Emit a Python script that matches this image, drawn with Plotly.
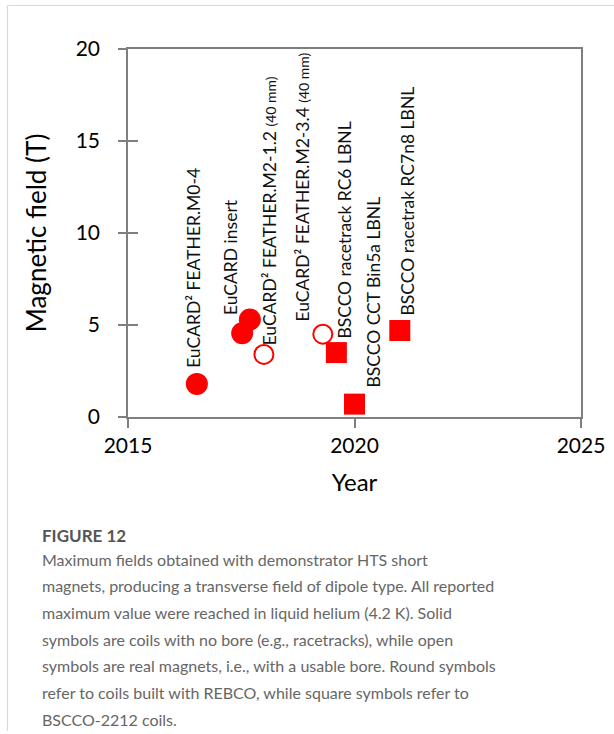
import plotly.graph_objects as go

# ---- data ----
rebco_solid_year = [2016.52, 2017.52, 2017.69]
rebco_solid_field = [1.8, 4.55, 5.3]
rebco_open_year = [2018.0, 2019.3]
rebco_open_field = [3.4, 4.5]
bscco_year = [2019.6, 2020.0, 2021.0]
bscco_field = [3.5, 0.7, 4.7]

label_texts = [
    "EuCARD² FEATHER.M0-4",
    "EuCARD insert",
    "EuCARD² FEATHER.M2-1.2 <span style='font-size:14px'>(40 mm)</span>",
    "EuCARD² FEATHER.M2-3.4 <span style='font-size:14px'>(40 mm)</span>",
    "BSCCO racetrack RC6 LBNL",
    "BSCCO CCT Bin5a LBNL",
    "BSCCO racetrak RC7n8 LBNL",
]
label_year = [2016.43, 2017.25, 2018.13, 2018.86, 2019.79, 2020.41, 2021.18]
label_field = [2.55, 5.43, 3.8, 5.1, 4.18, 1.47, 5.43]

x_ticks = [2015, 2020, 2025]
y_ticks = [0, 5, 10, 15, 20]

caption_title = "FIGURE 12"
caption_lines = [
    "Maximum fields obtained with demonstrator HTS short",
    "magnets, producing a transverse field of dipole type. All reported",
    "maximum value were reached in liquid helium (4.2 K). Solid",
    "symbols are coils with no bore (e.g., racetracks), while open",
    "symbols are real magnets, i.e., with a usable bore. Round symbols",
    "refer to coils built with REBCO, while square symbols refer to",
    "BSCCO-2212 coils.",
]

RED = "#ff0000"
W, H = 614, 734
L, R, T, B = 128, 33, 49, 317
PH = H - T - B
PW = W - L - R

fig = go.Figure()
fig.add_trace(go.Scatter(x=rebco_solid_year, y=rebco_solid_field, mode="markers",
                         marker=dict(symbol="circle", size=22, color=RED, line=dict(width=0)),
                         showlegend=False))
fig.add_trace(go.Scatter(x=rebco_open_year, y=rebco_open_field, mode="markers",
                         marker=dict(symbol="circle", size=19, color="white",
                                     line=dict(width=2, color=RED)),
                         showlegend=False))
fig.add_trace(go.Scatter(x=bscco_year, y=bscco_field, mode="markers",
                         marker=dict(symbol="square", size=21, color=RED, line=dict(width=0)),
                         showlegend=False))
# invisible trace for inside y ticks
fig.add_trace(go.Scatter(x=[2015], y=[0], yaxis="y2", mode="markers",
                         marker=dict(opacity=0), showlegend=False, hoverinfo="skip"))

FONT = "Lato"
annotations = []
for t, xv, yv in zip(label_texts, label_year, label_field):
    annotations.append(dict(x=xv, y=yv, xref="x", yref="y", text=t, textangle=-90,
                            showarrow=False, xanchor="center", yanchor="bottom",
                            font=dict(family=FONT, size=17.5, color="#111")))

def py(p):
    return (H - B - p) / PH

def px(p):
    return (p - L) / PW

annotations.append(dict(x=px(40), y=py(535), xref="paper", yref="paper",
                        text="<b>" + caption_title + "</b>", showarrow=False,
                        xanchor="left", yanchor="middle",
                        font=dict(family=FONT, size=17, color="#555")))
for i, line in enumerate(caption_lines):
    annotations.append(dict(x=px(40), y=py(559 + i * 26.7), xref="paper",
                            yref="paper", text=line, showarrow=False,
                            xanchor="left", yanchor="middle",
                            font=dict(family=FONT, size=16, color="#666")))

shapes = [
    dict(type="line", xref="paper", yref="paper",
         x0=px(7.5), x1=px(7.5), y0=py(5.5), y1=py(731),
         line=dict(color="#d9d9d9", width=1.2)),
    dict(type="line", xref="paper", yref="paper",
         x0=px(7.5), x1=px(W), y0=py(5.5), y1=py(5.5),
         line=dict(color="#d9d9d9", width=1.2)),
]

axis_line = "#7f7f7f"
fig.update_layout(
    width=W, height=H,
    margin=dict(l=L, r=R, t=T, b=B, autoexpand=False),
    paper_bgcolor="white", plot_bgcolor="white",
    xaxis=dict(range=[2015, 2025], tickvals=x_ticks, ticks="outside", ticklen=9,
               tickcolor=axis_line, tickwidth=1.5, showline=True, linecolor=axis_line,
               linewidth=1.5, mirror=True, showgrid=False, zeroline=False,
               tickfont=dict(family=FONT, size=21, color="#000"),
               title=dict(text="Year", font=dict(family=FONT, size=24, color="#000"),
                          standoff=18)),
    yaxis=dict(range=[0, 20], tickvals=y_ticks, ticks="outside", ticklen=8,
               tickcolor=axis_line, tickwidth=1.5, showline=True, linecolor=axis_line,
               linewidth=1.5, mirror=True, showgrid=False, zeroline=False,
               tickfont=dict(family=FONT, size=21, color="#000"),
               ticklabelstandoff=14,
               title=dict(text="Magnetic field (T)",
                          font=dict(family=FONT, size=26, color="#000"), standoff=22)),
    yaxis2=dict(range=[0, 20], tickvals=y_ticks, ticks="inside", ticklen=10,
                tickcolor=axis_line, tickwidth=1.5, overlaying="y", side="left",
                showticklabels=False, showgrid=False, zeroline=False, showline=False),
    annotations=annotations,
    shapes=shapes,
)

fig.write_html("out.html", config={"displayModeBar": False},
               post_script="document.body.style.margin='0';document.body.style.overflow='hidden';")
